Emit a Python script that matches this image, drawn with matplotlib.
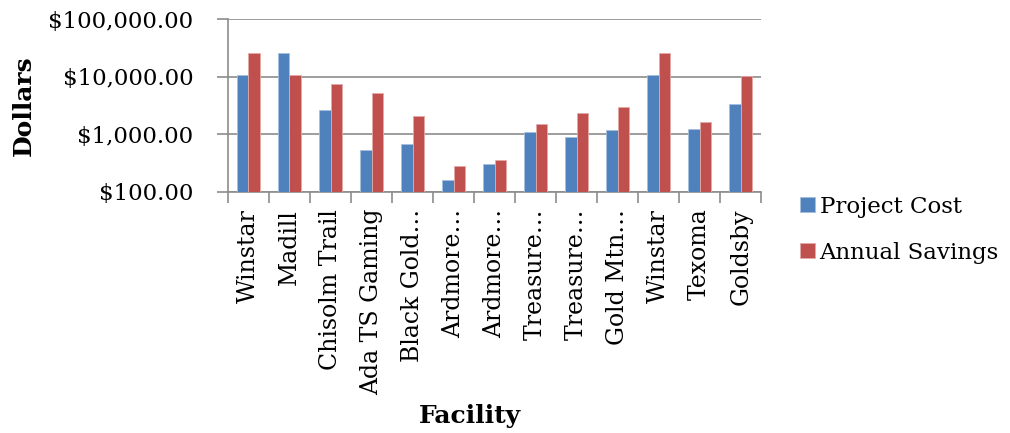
import numpy as np
import matplotlib
matplotlib.use('Agg')
import matplotlib.pyplot as plt
from matplotlib.ticker import FixedLocator, NullFormatter

plt.rcParams['font.family'] = ['DejaVu Serif']

facilities = ['Winstar', 'Madill', 'Chisolm Trail', 'Ada TS Gaming', 'Black Gold…',
              'Ardmore…', 'Ardmore…', 'Treasure…', 'Treasure…', 'Gold Mtn…',
              'Winstar', 'Texoma', 'Goldsby']
project_cost = [10500, 25500, 2650, 540, 673, 164, 306, 1100, 912, 1208, 10600, 1258, 3370]
annual_savings = [25500, 10600, 7600, 5170, 2090, 286, 360, 1535, 2325, 2990, 25500, 1640, 10300]
series_names = ['Project Cost', 'Annual Savings']
yticks = [100, 1000, 10000, 100000]
ytick_labels = ['$100.00', '$1,000.00', '$10,000.00', '$100,000.00']

fig = plt.figure(figsize=(10.1, 4.33), dpi=100)
ax = fig.add_axes([0.2257, 0.5566, 0.528, 0.3995])

ind = np.arange(len(facilities))
width = 0.28
b1 = ax.bar(ind - width/2, project_cost, width, color='#4F81BD', edgecolor='#A7C0DE', linewidth=0.6, zorder=3)
b2 = ax.bar(ind + width/2, annual_savings, width, color='#C0504D', edgecolor='#E3A9A7', linewidth=0.6, zorder=3)

ax.set_yscale('log')
ax.set_ylim(100, 100000)
ax.set_xlim(-0.5, len(facilities) - 0.5)
ax.yaxis.set_major_locator(FixedLocator(yticks))
ax.set_yticklabels(ytick_labels, fontsize=16.5)
ax.yaxis.set_minor_locator(FixedLocator([]))
ax.yaxis.grid(True, color='#8C8C8C', linewidth=1.2, zorder=0)
ax.tick_params(axis='y', length=8, color='#8C8C8C', width=1.2, pad=17)

ax.set_xticks(ind)
ax.set_xticklabels(facilities, rotation=90, fontsize=17, va='top')
ax.tick_params(axis='x', which='major', length=0, pad=12)
ax.xaxis.set_minor_locator(FixedLocator(np.arange(-0.5, len(facilities), 1)))
ax.xaxis.set_minor_formatter(NullFormatter())
ax.tick_params(axis='x', which='minor', length=8, color='#8C8C8C', width=1.2)

for s in ['top', 'right']:
    ax.spines[s].set_visible(False)
for s in ['left', 'bottom']:
    ax.spines[s].set_color('#8C8C8C')
    ax.spines[s].set_linewidth(1.2)

fig.text(0.024, 0.755, 'Dollars', fontsize=18, fontweight='bold', rotation=90,
         ha='center', va='center')
fig.text(0.465, 0.04, 'Facility', fontsize=18, fontweight='bold', ha='center', va='center')

ax.legend((b1[0], b2[0]), series_names, loc='center left', bbox_to_anchor=(1.072, -0.218),
          frameon=False, fontsize=16.5, handlelength=0.65, handleheight=0.6,
          handletextpad=0.22, labelspacing=1.05, borderaxespad=0, borderpad=0)

fig.savefig('out.png', dpi=100)
